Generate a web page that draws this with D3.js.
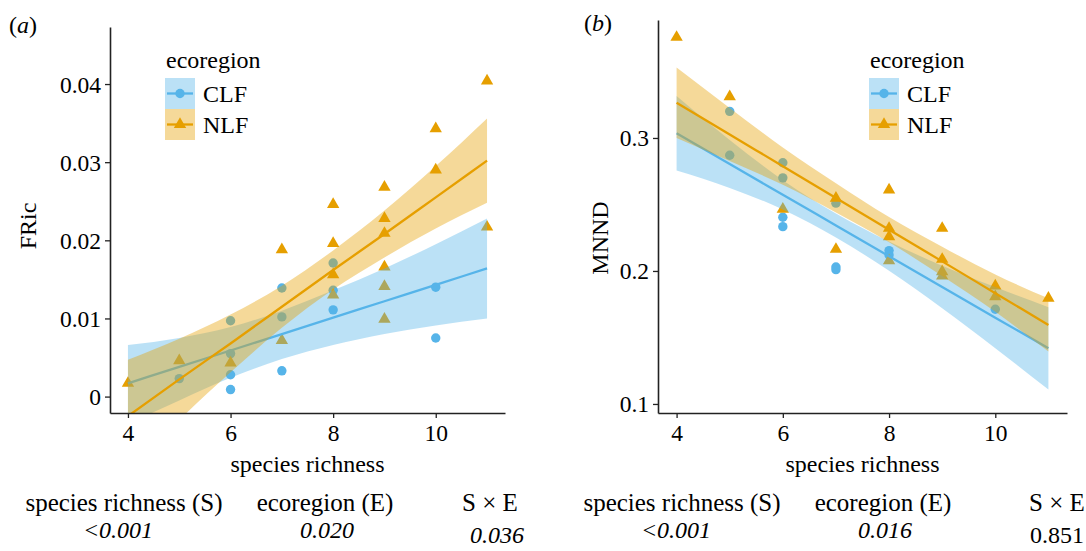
<!DOCTYPE html>
<html>
<head>
<meta charset="utf-8">
<script src="https://cdn.jsdelivr.net/npm/d3@7"></script>
<style>
body { margin: 0; background: #fff; }
text { font-family: "Liberation Serif", "Times New Roman", serif; fill: #000; }
</style>
</head>
<body>
<script>
const width = 1086
const height = 551
const serif = '"Liberation Serif", "Times New Roman", serif'

const blue = '#56B4E9'
const orange = '#E69F00'
const blueFill = 'rgba(86,180,233,0.4)'
const orangeFill = 'rgba(230,159,0,0.4)'

// shared x
const xTicks = [4, 6, 8, 10]
const fitX = [4, 5, 6, 7, 8, 9, 10, 11]

// panel (a) FRic
const aYTicks = [0, 0.01, 0.02, 0.03, 0.04]
const aYLabels = ['0', '0.01', '0.02', '0.03', '0.04']
const aClfX = [5, 6, 6, 6, 6, 7, 7, 7, 8, 8, 8, 10, 10]
const aClfY = [0.0023, 0.0097, 0.0055, 0.0028, 0.0009, 0.0139, 0.0102, 0.0033, 0.0171, 0.0136, 0.0111, 0.0140, 0.0075]
const aNlfX = [4, 5, 6, 7, 7, 8, 8, 8, 8, 9, 9, 9, 9, 9, 9, 10, 10, 11, 11]
const aNlfY = [0.0017, 0.0046, 0.0043, 0.0188, 0.0072, 0.0246, 0.0196, 0.0156, 0.0130, 0.0268, 0.0228, 0.0209, 0.0166, 0.0141, 0.0099, 0.0343, 0.0290, 0.0404, 0.0217]
const aClfFit = [0.0017, 0.0038, 0.0059, 0.0080, 0.0101, 0.0122, 0.0143, 0.0164]
const aClfLo = [-0.0035, -0.0005, 0.0024, 0.0048, 0.0066, 0.0080, 0.0091, 0.0100]
const aClfHi = [0.0066, 0.0075, 0.0089, 0.0110, 0.0136, 0.0164, 0.0195, 0.0228]
const aNlfFit = [-0.0025, 0.0022, 0.0068, 0.0115, 0.0162, 0.0208, 0.0255, 0.0302]
const aNlfLo = [-0.0097, -0.0030, 0.0031, 0.0088, 0.0137, 0.0178, 0.0215, 0.0248]
const aNlfHi = [0.0047, 0.0074, 0.0105, 0.0142, 0.0187, 0.0238, 0.0295, 0.0356]

// panel (b) MNND
const bYTicks = [0.1, 0.2, 0.3]
const bYLabels = ['0.1', '0.2', '0.3']
const bClfX = [5, 5, 6, 6, 6, 6, 7, 7, 7, 8, 8, 10]
const bClfY = [0.320, 0.287, 0.2814, 0.270, 0.2404, 0.2333, 0.251, 0.203, 0.201, 0.2153, 0.212, 0.1712]
const bNlfX = [4, 5, 6, 7, 7, 8, 8, 8, 8, 9, 9, 9, 9, 10, 10, 11]
const bNlfY = [0.3757, 0.331, 0.2464, 0.2547, 0.2163, 0.261, 0.2321, 0.2258, 0.2077, 0.2321, 0.2088, 0.1995, 0.1962, 0.1887, 0.1807, 0.1795]
const bClfFit = [0.3035, 0.2804, 0.2573, 0.2342, 0.2111, 0.1880, 0.1649, 0.1418]
const bClfLo = [0.2755, 0.2624, 0.2463, 0.2252, 0.2001, 0.1720, 0.1419, 0.1108]
const bClfHi = [0.3315, 0.2984, 0.2683, 0.2432, 0.2221, 0.2040, 0.1879, 0.1728]
const bNlfFit = [0.3265, 0.3026, 0.2788, 0.2549, 0.2310, 0.2072, 0.1833, 0.1594]
const bNlfLo = [0.3000, 0.2826, 0.2648, 0.2439, 0.2215, 0.1962, 0.1693, 0.1394]
const bNlfHi = [0.3530, 0.3226, 0.2928, 0.2659, 0.2405, 0.2182, 0.1973, 0.1794]

// p-value table
const statHeads = ['species richness (S)', 'ecoregion (E)', 'S \u00d7 E']
const aStats = ['<0.001', '0.020', '0.036']
const bStats = ['<0.001', '0.016', '0.851']
const bStatsItalic = [true, true, false]

const svg = d3.select('body').append('svg')
        .attr('width', width)
        .attr('height', height)

const triangle = d3.symbol().type(d3.symbolTriangle).size(66)

function drawPanel(p) {
    const xScale = d3.scaleLinear().domain([3.65, 11.35]).range([p.left, p.right])
    const yScale = d3.scaleLinear().domain(p.yDomain).range([p.bottom, p.top])

    svg.append('clipPath').attr('id', p.id + '-clip')
        .append('rect')
        .attr('x', p.left).attr('y', p.top)
        .attr('width', p.right - p.left).attr('height', p.bottom - p.top)

    const plot = svg.append('g').attr('clip-path', 'url(#' + p.id + '-clip)')

    // points first, ribbons sit on top of them (like geom_smooth after geom_point)
    plot.selectAll('circle.clf')
        .data(p.clfX.map((x, i) => [x, p.clfY[i]]))
        .join('circle')
        .attr('class', 'clf')
        .attr('cx', d => xScale(d[0]))
        .attr('cy', d => yScale(d[1]))
        .attr('r', 4.7)
        .attr('fill', blue)

    plot.selectAll('path.nlf-pt')
        .data(p.nlfX.map((x, i) => [x, p.nlfY[i]]))
        .join('path')
        .attr('class', 'nlf-pt')
        .attr('d', triangle)
        .attr('transform', d => 'translate(' + xScale(d[0]) + ',' + yScale(d[1]) + ')')
        .attr('fill', orange)

    const area = d3.area()
        .x((d, i) => xScale(fitX[i]))
        .curve(d3.curveMonotoneX)
    const line = d3.line()
        .x((d, i) => xScale(fitX[i]))
        .y(d => yScale(d))
        .curve(d3.curveMonotoneX)

    const groups = [
        {fit: p.clfFit, lo: p.clfLo, hi: p.clfHi, fill: blueFill, col: blue},
        {fit: p.nlfFit, lo: p.nlfLo, hi: p.nlfHi, fill: orangeFill, col: orange}
    ]
    groups.forEach(g => {
        plot.append('path')
            .datum(g.lo)
            .attr('d', area.y0(d => yScale(d)).y1((d, i) => yScale(g.hi[i])))
            .attr('fill', g.fill)
        plot.append('path')
            .datum(g.fit)
            .attr('d', line)
            .attr('fill', 'none')
            .attr('stroke', g.col)
            .attr('stroke-width', 2.3)
    })

    // axes
    const xAxis = svg.append('g')
        .attr('transform', 'translate(0,' + p.bottom + ')')
        .call(d3.axisBottom(xScale).tickValues(xTicks).tickSize(5).tickSizeOuter(0).tickPadding(4))
    const yAxis = svg.append('g')
        .attr('transform', 'translate(' + p.left + ',0)')
        .call(d3.axisLeft(yScale).tickValues(p.yTicks).tickFormat((d, i) => p.yLabels[i]).tickSize(5).tickSizeOuter(0).tickPadding(4))
    ;[xAxis, yAxis].forEach(ax => {
        ax.attr('font-family', serif).attr('font-size', 23.5)
        ax.select('.domain').attr('stroke', '#222').attr('stroke-width', 1.6)
        ax.selectAll('.tick line').attr('stroke', '#222').attr('stroke-width', 1.3)
        ax.selectAll('.tick text').attr('fill', '#000')
    })
    xAxis.selectAll('.tick text').attr('dy', '0.8em')
    yAxis.selectAll('.tick text').attr('dy', '0.34em')

    // titles
    svg.append('text')
        .attr('x', (p.left + p.right) / 2).attr('y', 472)
        .attr('text-anchor', 'middle').attr('font-size', 24)
        .text('species richness')
    svg.append('text')
        .attr('transform', 'translate(' + p.ytitleX + ',' + p.ytitleY + ') rotate(-90)')
        .attr('text-anchor', 'middle').attr('font-size', 24)
        .text(p.ytitle)
    const tag = svg.append('text')
        .attr('x', p.tagX).attr('y', p.tagY).attr('font-size', 24)
    tag.append('tspan').text('(')
    tag.append('tspan').attr('font-style', 'italic').text(p.tag)
    tag.append('tspan').text(')')

    // legend
    const lg = svg.append('g').attr('transform', 'translate(' + p.legX + ',' + p.legY + ')')
    lg.append('text').attr('x', 1).attr('y', 0).attr('font-size', 24).text('ecoregion')
    const keys = [
        {name: 'CLF', fill: blueFill, col: blue, shape: 'circle'},
        {name: 'NLF', fill: orangeFill, col: orange, shape: 'triangle'}
    ]
    keys.forEach((k, i) => {
        const ky = 10 + i * 31
        lg.append('rect').attr('x', 0).attr('y', ky).attr('width', 30).attr('height', 31).attr('fill', k.fill)
        lg.append('line').attr('x1', 2).attr('x2', 28).attr('y1', ky + 15.5).attr('y2', ky + 15.5)
            .attr('stroke', k.col).attr('stroke-width', 2.3)
        if (k.shape === 'circle') {
            lg.append('circle').attr('cx', 15).attr('cy', ky + 15.5).attr('r', 4.7).attr('fill', k.col)
        } else {
            lg.append('path').attr('d', triangle).attr('transform', 'translate(15,' + (ky + 15.5) + ')').attr('fill', k.col)
        }
        lg.append('text').attr('x', 38).attr('y', ky + 24).attr('font-size', 24).text(k.name)
    })
}

drawPanel({
    id: 'a', left: 110, right: 505, top: 27, bottom: 413,
    yDomain: [-0.0021, 0.0473], yTicks: aYTicks, yLabels: aYLabels,
    clfX: aClfX, clfY: aClfY, nlfX: aNlfX, nlfY: aNlfY,
    clfFit: aClfFit, clfLo: aClfLo, clfHi: aClfHi,
    nlfFit: aNlfFit, nlfLo: aNlfLo, nlfHi: aNlfHi,
    ytitle: 'FRic', ytitleX: 36, ytitleY: 226,
    tag: 'a', tagX: 9, tagY: 33,
    legX: 165, legY: 68
})

drawPanel({
    id: 'b', left: 658, right: 1067, top: 20, bottom: 413,
    yDomain: [0.0932, 0.3887], yTicks: bYTicks, yLabels: bYLabels,
    clfX: bClfX, clfY: bClfY, nlfX: bNlfX, nlfY: bNlfY,
    clfFit: bClfFit, clfLo: bClfLo, clfHi: bClfHi,
    nlfFit: bNlfFit, nlfLo: bNlfLo, nlfHi: bNlfHi,
    ytitle: 'MNND', ytitleX: 608, ytitleY: 238,
    tag: 'b', tagX: 584, tagY: 31,
    legX: 869, legY: 68
})

// p-values underneath
const headX = [[124, 325, 490], [682, 883, 1057]]
const valX = [[118, 327, 497], [676, 885, 1057]]
const valY = [538, 538, 543]
;[aStats, bStats].forEach((vals, j) => {
    statHeads.forEach((h, i) => {
        svg.append('text').attr('x', headX[j][i]).attr('y', 511)
            .attr('text-anchor', 'middle').attr('font-size', 25).text(h)
        svg.append('text').attr('x', valX[j][i]).attr('y', valY[i])
            .attr('text-anchor', 'middle').attr('font-size', 24)
            .attr('font-style', (j === 0 || bStatsItalic[i]) ? 'italic' : 'normal')
            .text(vals[i])
    })
})
</script>
</body>
</html>
